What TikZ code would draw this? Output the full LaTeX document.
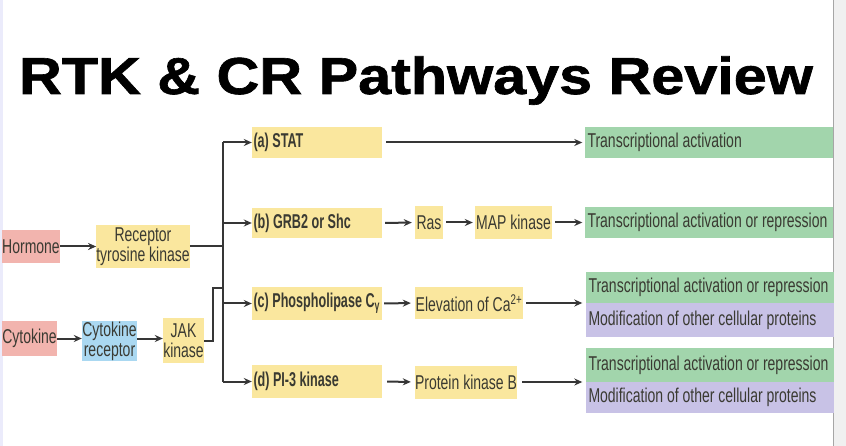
\documentclass[tikz,border=0pt]{standalone}
\usepackage{fontspec}
\setmainfont{Liberation Sans}
\newfontfamily\cond[FakeStretch=0.70]{Liberation Sans}
\newfontfamily\condb[FakeStretch=0.63]{Liberation Sans Bold}
\newfontfamily\titlefont[FakeBold=1.2]{Liberation Sans Bold}
\usetikzlibrary{arrows.meta}
\definecolor{ybox}{HTML}{FAE79E}
\definecolor{pbox}{HTML}{F2B4AE}
\definecolor{bbox}{HTML}{AAD8F1}
\definecolor{gbox}{HTML}{A2D5AC}
\definecolor{vbox}{HTML}{C8C2E6}
\definecolor{linec}{HTML}{363636}
\definecolor{textc}{HTML}{3A3A32}
\begin{document}
\begin{tikzpicture}[x=1pt,y=-1pt,
  box/.style={inner sep=0pt, text=textc, font=\cond\fontsize{20}{20}\selectfont, align=center},
  yb/.style={box, fill=ybox},
  pb/.style={box, fill=pbox},
  bb/.style={box, fill=bbox},
  lab/.style={box, fill=ybox, font=\condb\fontsize{20}{20}\selectfont, inner xsep=1.5pt, text width=127pt, align=flush left},
  gb/.style={box, fill=gbox, inner xsep=3pt, text width=242pt, align=flush left},
  vb/.style={box, fill=vbox, inner xsep=3pt, text width=242pt, align=flush left},
  conn/.style={draw=linec, line width=2pt},
  arr/.style={conn, -{Stealth[length=8pt,width=7pt]}},
]
\useasboundingbox (0,0) rectangle (846,446);
\fill[white] (0,0) rectangle (846,446);
\fill[black!20!blue!8!white] (0,0) rectangle (2.5,446);
\fill[black!6] (833.5,0) rectangle (846,446);
\draw[black!35, line width=1pt] (833.5,0) -- (833.5,446);

% title
\node[anchor=base, inner sep=0pt] (title) at (416,94)
  {\scalebox{1.14}[1]{\titlefont\fontsize{52}{56}\selectfont RTK \& CR Pathways Review}};

% left part
\node[pb, minimum width=58pt, minimum height=33pt] (hormone) at (31,246.5) {Hormone};
\node[yb, minimum width=92pt, minimum height=43pt] (rtk) at (143,246.5) {Receptor\\tyrosine kinase};
\node[pb, minimum width=55pt, minimum height=35pt] (cytokine) at (29.5,338.5) {Cytokine};
\node[bb, minimum width=55pt, minimum height=40pt] (cytrec) at (109.5,341) {Cytokine\\receptor};
\node[yb, minimum width=41pt, minimum height=45pt] (jak) at (183.5,340.5) {JAK\\kinase};

% branch labels
\node[lab, minimum width=130pt, minimum height=31pt] (a) at (317,142.5) {(a) STAT};
\node[lab, minimum width=130pt, minimum height=30pt] (b) at (317,223) {(b) GRB2 or Shc};
\node[lab, minimum width=130pt, minimum height=33pt] (c) at (317,303.5) {(c) Phospholipase C\textsubscript{γ}};
\node[lab, minimum width=130pt, minimum height=33pt] (d) at (317,381.5) {(d) PI-3 kinase};

\node[yb, minimum width=28pt, minimum height=33pt] (ras) at (429,222.5) {Ras};
\node[yb, minimum width=77pt, minimum height=33pt] (map) at (513.5,222.5) {MAP kinase};
\node[yb, minimum width=108pt, minimum height=32pt] (elev) at (469,303) {Elevation of Ca\textsuperscript{2+}};
\node[yb, minimum width=102pt, minimum height=33pt] (pkb) at (466,382) {Protein kinase B};

% outcomes
\node[gb, minimum width=247pt, minimum height=31pt] (g1) at (708.5,142.5) {Transcriptional activation};
\node[gb, minimum width=247pt, minimum height=31pt] (g2) at (708.5,222.5) {Transcriptional activation or repression};
\node[gb, minimum width=245pt, minimum height=31pt] (g3) at (709.5,287.5) {Transcriptional activation or repression};
\node[vb, minimum width=245pt, minimum height=34pt] (p3) at (709.5,320) {Modification of other cellular proteins};
\node[gb, minimum width=245pt, minimum height=34pt] (g4) at (709.5,365) {Transcriptional activation or repression};
\node[vb, minimum width=245pt, minimum height=31pt] (p4) at (709.5,397.5) {Modification of other cellular proteins};

% branch connectors
\coordinate (bt) at (223,142.5);
\coordinate (bb) at (223,381.5);
\coordinate (jj) at (223,288);
\draw[conn] (bt) -- (bb);
\draw[arr] (bt) -- (a.west);
\draw[arr] (b.west -| bt) -- (b.west);
\draw[arr] (c.west -| bt) -- (c.west);
\draw[arr] (bb) -- (d.west);
\draw[conn] (rtk.east) -- (rtk.east -| bt);
\draw[conn] (jak.east) -- ++(9,0) |- (jj);

\draw[arr] (hormone.east) -- (rtk.west);
\draw[arr] (cytokine.east) -- (cytokine.east -| cytrec.west);
\draw[arr] (cytokine.east -| cytrec.east) -- (cytokine.east -| jak.west);

\draw[arr, shorten <=4pt, shorten >=2pt] (a.east) -- (g1.west);
\draw[arr, shorten <=3pt, shorten >=3pt] (b.east) -- (ras.west);
\draw[arr, shorten <=3pt, shorten >=2pt] (ras.east) -- (map.west);
\draw[arr, shorten <=3pt, shorten >=2pt] (map.east) -- (g2.west);
\draw[arr, shorten <=2pt, shorten >=4pt] (c.east) -- (elev.west);
\draw[arr, shorten <=3pt, shorten >=3pt] (elev.east) -- (elev.east -| g3.west);
\draw[arr, shorten <=5pt, shorten >=4pt] (d.east) -- (pkb.west);
\draw[arr, shorten <=5pt, shorten >=3pt] (pkb.east) -- (pkb.east -| g4.west);
\end{tikzpicture}
\end{document}
